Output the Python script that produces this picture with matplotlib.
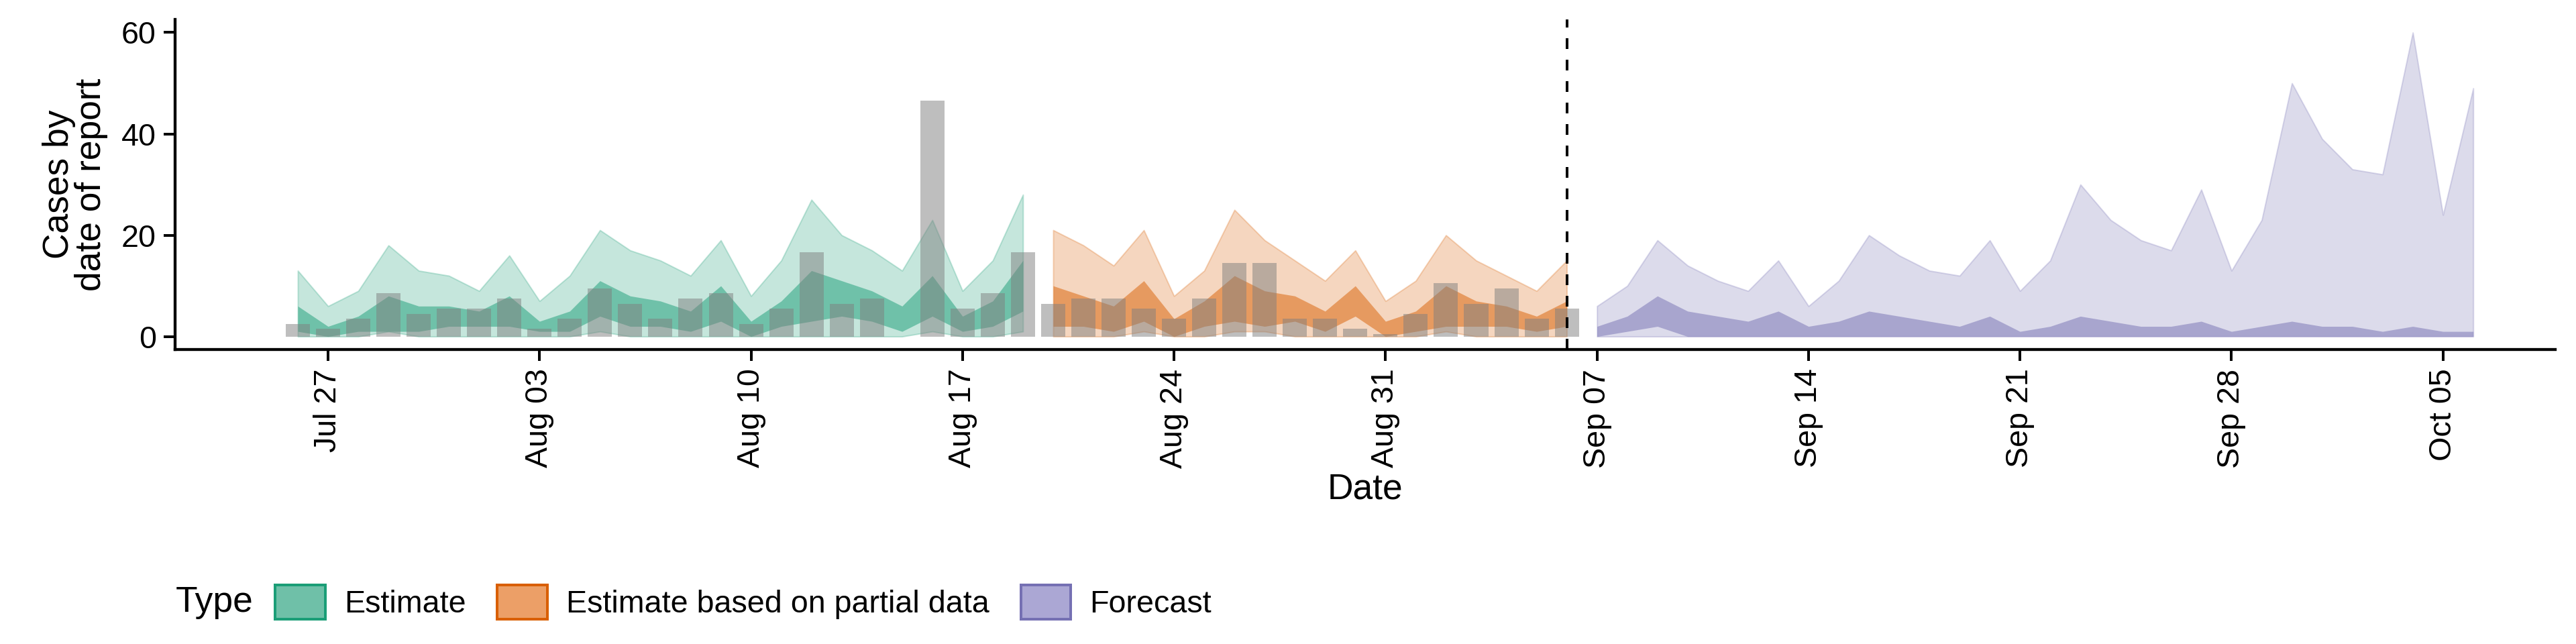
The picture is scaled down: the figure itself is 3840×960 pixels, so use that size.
import numpy as np
import pandas as pd
import matplotlib
matplotlib.use("Agg")
import matplotlib.pyplot as plt
from matplotlib.patches import Patch
from matplotlib.offsetbox import HPacker

plt.rcParams['font.family'] = ['Liberation Sans', 'DejaVu Sans']

# Reported cases (bars), Jul 26 - Sep 6
bar_dates = pd.date_range("2020-07-26", "2020-09-06")
bar_vals = [2.5, 1.5, 3.5, 8.6, 4.5, 5.5, 5.5, 7.5, 1.5, 3.5, 9.5, 6.5, 3.5, 7.5, 8.6,
            2.5, 5.5, 16.6, 6.5, 7.5, 0, 46.6, 5.5, 8.6, 16.6,
            6.5, 7.5, 7.5, 5.5, 3.5, 7.5, 14.5, 14.5, 3.5, 3.5, 1.5, 0.5, 4.5, 10.5,
            6.5, 9.5, 3.5, 5.5]

# Estimate: Jul 26 - Aug 19
est_dates = pd.date_range("2020-07-26", "2020-08-19")
est_hi90 = [13, 6, 9, 18, 13, 12, 9, 16, 7, 12, 21, 17, 15, 12, 19, 8, 15, 27, 20, 17, 13, 23, 9, 15, 28]
est_hi50 = [6, 2, 4, 8, 6, 6, 5, 8, 3, 5, 11, 8, 7, 5, 10, 3, 7, 13, 11, 9, 6, 12, 4, 7, 15]
est_lo50 = [1, 0, 1, 1, 1, 2, 2, 2, 1, 1, 4, 2, 2, 1, 3, 0, 2, 3, 4, 3, 1, 4, 1, 2, 5]
est_lo90 = [0, 0, 0, 1, 0, 0, 0, 0, 0, 0, 1, 0, 0, 0, 0, 0, 0, 0, 0, 0, 0, 1, 0, 0, 1]

# Estimate based on partial data: Aug 20 - Sep 6
part_dates = pd.date_range("2020-08-20", "2020-09-06")
part_hi90 = [21, 18, 14, 21, 8, 13, 25, 19, 15, 11, 17, 7, 11, 20, 15, 12, 9, 15]
part_hi50 = [10, 8, 6, 11, 3.5, 7, 12, 9, 8, 5, 10, 3, 5, 10, 7, 6, 4, 7]
part_lo50 = [2, 2, 1, 3, 0, 2, 3, 2, 3, 1, 4, 0, 1, 2, 2, 2, 1, 2]
part_lo90 = [0, 0, 0, 1, 0, 0, 1, 1, 0, 0, 0, 0, 0, 1, 0, 0, 0, 0]

# Forecast: Sep 7 - Oct 6
fc_dates = pd.date_range("2020-09-07", "2020-10-06")
fc_hi90 = [6, 10, 19, 14, 11, 9, 15, 6, 11, 20, 16, 13, 12, 19, 9, 15, 30, 23, 19, 17,
           29, 13, 23, 50, 39, 33, 32, 60, 24, 49]
fc_hi50 = [2, 4, 8, 5, 4, 3, 5, 2, 3, 5, 4, 3, 2, 4, 1, 2, 4, 3, 2, 2,
           3, 1, 2, 3, 2, 2, 1, 2, 1, 1]
fc_lo50 = [0, 1, 2] + [0] * 27
fc_lo90 = [0] * 30

GREEN, ORANGE, PURPLE = "#1B9E77", "#D95F02", "#7570B3"

fig = plt.figure(figsize=(16, 4), dpi=240)
ax = fig.add_axes([0.068, 0.457, 0.924, 0.513])

ax.bar(bar_dates, bar_vals, width=0.8, color="#7f7f7f", alpha=0.5, zorder=3, linewidth=0)

for d, h9, h5, l5, l9, c in [(est_dates, est_hi90, est_hi50, est_lo50, est_lo90, GREEN),
                             (part_dates, part_hi90, part_hi50, part_lo50, part_lo90, ORANGE),
                             (fc_dates, fc_hi90, fc_hi50, fc_lo50, fc_lo90, PURPLE)]:
    ax.fill_between(d, l9, h9, color=c, alpha=0.25, linewidth=0.6, edgecolor=c, zorder=1)
    ax.fill_between(d, l5, h5, color=c, alpha=0.5, linewidth=0, zorder=2)

ax.axvline(pd.Timestamp("2020-09-06"), color="black", linestyle=(0, (4, 4)), linewidth=1.2, zorder=4)

ax.set_xlim(pd.Timestamp("2020-07-27") - pd.Timedelta(days=5.06),
            pd.Timestamp("2020-10-05") + pd.Timedelta(days=3.72))
ax.set_ylim(-2.6, 62.6)
ax.set_yticks([0, 20, 40, 60])
ticks = pd.date_range("2020-07-27", "2020-10-05", freq="7D")
ax.set_xticks(ticks)
ax.set_xticklabels([t.strftime("%b %d") for t in ticks], rotation=90)
ax.tick_params(labelsize=14, colors="black", width=1.2, length=5)
for s in ["top", "right"]:
    ax.spines[s].set_visible(False)
for s in ["left", "bottom"]:
    ax.spines[s].set_linewidth(1.3)
ax.set_xlabel("Date", fontsize=16, labelpad=2)
ax.set_ylabel("Cases by\ndate of report", fontsize=16, linespacing=0.95, labelpad=6)

handles = [Patch(facecolor=fc, edgecolor=c, linewidth=1.2) for fc, c in
           [("#6fc0a8", GREEN), ("#ec9f67", ORANGE), ("#aba7d4", PURPLE)]]
leg = fig.legend(handles, ["Estimate", "Estimate based on partial data", "Forecast"],
                 loc="center left", bbox_to_anchor=(0.062, 0.065), ncol=3, frameon=False,
                 fontsize=14, title="Type", title_fontsize=16, handlelength=1.6, handleheight=1.3,
                 columnspacing=1.0, handletextpad=0.6)
children = leg._legend_box.get_children()
leg._legend_box = HPacker(pad=0, sep=10, children=children, align="center")
leg._legend_box.set_figure(fig)
leg._legend_box.set_offset(leg._findoffset)

fig.savefig("out.png", dpi=240)
